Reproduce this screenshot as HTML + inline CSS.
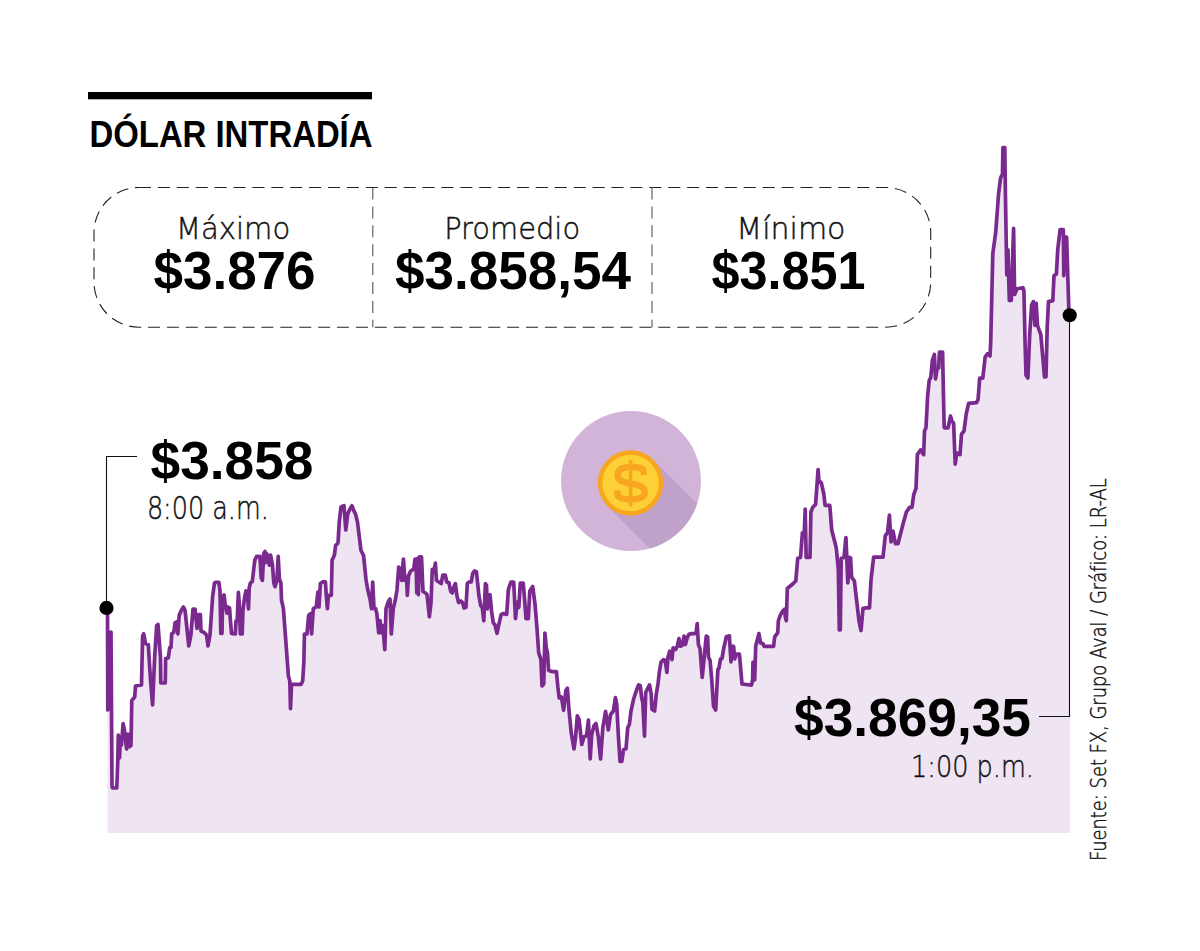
<!DOCTYPE html>
<html lang="es"><head><meta charset="utf-8"><title>Dólar intradía</title>
<style>
html,body{margin:0;padding:0;background:#fff;}
body{width:1200px;height:951px;position:relative;overflow:hidden;}
svg{position:absolute;left:0;top:0;font-family:"Liberation Sans",sans-serif;}
.lt{font-family:"DejaVu Sans","Liberation Sans",sans-serif;font-weight:200;stroke:#111;stroke-width:0.45px;}
</style></head><body>
<svg width="1200" height="951" viewBox="0 0 1200 951">
<rect x="88" y="92" width="284" height="7.3" fill="#000"/>
<rect x="94" y="187.5" width="836.7" height="139.7" rx="45" ry="45" fill="none" stroke="#222" stroke-width="1.1" stroke-dasharray="12 6.9"/><line x1="372.8" y1="187.5" x2="372.8" y2="327.2" stroke="#555" stroke-width="1.1" stroke-dasharray="12 6.9"/><line x1="652" y1="187.5" x2="652" y2="327.2" stroke="#555" stroke-width="1.1" stroke-dasharray="12 6.9"/>
<polygon points="107.5,833 107.5,608 107.8,710 111,632 112,786 112.5,788 116.8,788 117.8,760 118.3,735 119.5,758 120.5,737 121.5,745 123.1,723.6 124.5,730 126.6,749 127.8,734 129.5,746.7 131,745.5 131.8,700.4 134.7,697 135.5,686 141.5,685 142.6,636 143.7,633.8 145.5,643.5 148.3,644.7 150.5,680 152.6,705 154.6,658.4 156.7,625.6 158,624.5 160.5,658 160.8,683 165.3,683 165.6,658.5 168.3,658 169.7,647.5 171,647.5 171.7,633.8 173.8,632.4 175,622.8 177.2,621.5 177.9,633.8 179.2,615.3 181.3,610.5 183.4,607 185,610 188.8,646 190.9,635 193,609 195,609 197,628.3 198.4,614.6 200.4,614.6 201,631 203.9,632.4 206.6,635 208,646 210,635 212.6,596.8 214.5,583 215.8,582.3 218.9,582.3 220,591 220.8,633.4 222,633.4 222.7,596.8 224,595 225.2,604 227,613.2 227.7,607 229.6,608 230.2,618 231.5,633.4 235.3,634 236,620.8 237.2,620.8 238.4,592.4 239.3,604 240.3,634 242.2,634 242.9,610.7 244.7,596.8 246,591 247.3,591.7 248.5,608.8 249.2,588 250.4,583 252.3,581.6 253.6,570.3 254.8,560.2 256.7,556.4 259.9,556.4 261.2,577.9 262.4,580.4 263.7,553.9 265,551.4 265.6,562.7 266.8,553.9 268,556.4 269.4,565.2 270.6,555 272.5,565.2 273.8,583 275,586.7 276.9,580.4 278.2,556.4 279.4,579.1 280.9,583 281.5,600 283.4,608.7 288.4,676 289.8,681 290.5,708.7 291.5,684.4 301,684.4 302.7,681 303.9,660.8 304.4,634 307,634 308.6,615.5 310.3,613.8 311.6,634 313.3,608.7 316.2,607 317.9,592 319,607 320.4,583.5 322.9,581.8 325.4,581.8 326.3,595.3 327.4,608.7 328.4,595.3 331.3,595.3 332.1,560 334.4,555.3 335.6,545.6 338,543 339.3,521.5 341,507 344,505.7 345.8,530 347.7,514 349.7,509.4 352,505.7 353.8,510.6 355.5,514 357.4,521.5 358.6,531 361,550.5 363.5,555.3 366,579.5 367.6,589 370,599 371.5,608.6 372.7,582 374,608.6 375.6,608.6 376.8,613.4 378.7,632.8 380,620.6 381.6,632.8 382.8,625.5 384.8,649.7 386,608.6 388.4,601.3 390,599 391.3,634 393.2,609 395.5,599 397,590 398.7,567 400.2,569.4 401.8,580.5 403.4,559 405,580.5 406.6,577.3 407.3,595.4 408.6,575.7 410.2,571.8 412,570 413.7,569.4 415,559 416,560 416.8,593 417.6,558.4 418.4,594.6 419.5,556.8 421.5,556.8 423,591.5 425.5,593 427,594.6 429.4,616.7 431,602.5 432.3,569.4 433.8,572.6 435.4,563 436.5,580.5 438.9,582 441.2,583.6 442.8,575 445.2,575 446.8,582 449,582.8 450.7,591.5 452.3,593 453.9,586.8 455.4,583.6 457,596 458.6,602.5 461,601 462.5,602.5 464,608 466,607.3 467.3,583.6 468.8,582 471.2,582 472.8,573.4 474.4,571 476.4,571.8 477.5,582 479,596.2 480.7,605.7 482.2,607.3 483.8,620.7 485.4,583.6 486.5,585.2 487.4,608.8 488.6,596.2 490,594.6 491.7,612 493.3,623 494.9,624.6 497,633.3 498.8,624.6 501.2,614.4 503.5,613.6 506.7,614.4 508.3,590 509.3,586.5 511,582 513.7,582 515.5,618.6 517.2,602 518.8,607.5 520.3,583.2 523.2,583.2 524.8,602 526,618.6 528.3,618.6 529.8,591 532.7,586.5 535,604 537,628.5 538.7,652.8 540.9,659.4 542,686 543.8,683.8 544.9,633 546.4,648.4 547.5,652.8 548.6,670.5 552,671.6 556.4,671.6 558,688 559.2,698 561.4,697 563.6,710.3 565.9,690.4 567.4,688.2 569,710.3 571.2,732.4 574,749 575.6,736.8 577.3,715.8 579,719 581.8,744.5 584,736.8 586.6,735.7 588.4,720.2 590.2,759 591.7,734.6 594,725.7 596,723.5 598.3,736.8 600.6,759 602.8,728 605.6,711.4 608.3,730 610.5,714.7 613.4,711 615.4,697.5 616.7,704.2 618.4,736.2 620,761.5 621.8,761.5 623.5,749.7 626,748.8 627.7,727.8 629.4,724.4 631,711 633.6,699.2 635.2,694 637,689 638.6,684.9 640.3,685.7 641.6,697.5 642.8,702.6 644.5,736.2 645.7,692.5 647.4,689 649.5,684.9 651.2,694 652,709.3 654.6,711 656.3,694 658,684 659.3,672.3 661,662.2 663.5,659.6 665.2,660.5 666.9,672.3 668,657 669.7,651.2 672,659.6 673.1,647.9 675.6,649.5 677.3,646.2 679,638.6 680.3,646.2 682.4,645.3 684,636 685.4,644.5 687,638.6 688.8,634.4 691.6,633.6 695,633.6 696.2,632 697.2,623.5 698.4,644.5 700,648.7 702.2,677.3 704.2,657 706.3,636 707.6,637 708.5,657 710.1,660.5 711.8,680.7 713.5,706 715.7,710 717.9,669.4 719,668 720.5,658.9 722,658.4 723.7,648.4 726.3,636.8 729.4,635.8 731,662 732,646.3 733.6,646.3 734.7,658.9 736.3,654.2 739.4,654.2 742,684 751.5,685.2 752.6,680 753,662 754,662 754.7,680 755.7,646.3 758.9,633.6 760.5,643 763,643.6 764.1,646.3 773.6,646.3 774.7,636.8 777.8,632.6 778.3,621 780,615.8 782,612 784.5,609.3 785.5,618 786.3,620.7 787.3,588.5 793,583.8 795.8,581 797.7,558.3 800.5,557.4 802.4,532.8 804.3,531.8 805.2,509.1 806.2,557.4 810,557.4 810.9,512 812.8,507.3 815.6,504.4 818.1,469.5 818.9,480.8 821.3,482.7 823.8,494 825.1,505.4 829.8,505.4 831.7,530 835.1,543.2 836.4,548.8 838.3,569.6 839.3,630 840.3,630 841.2,558.3 844,557.4 845.9,537.5 846.8,557.4 847.8,582.9 849.7,557.4 850.6,558 851.6,577.2 854.4,581 856.8,602 859,621 861,630.5 863,608.4 866.3,607.8 869.5,607.8 871,580 873.6,557.2 877.4,557.2 883,557.2 885.3,535.8 887.5,532.6 889.4,515.2 891,542 893,531 895.4,543.7 898,543.7 900,535.8 903.3,523 906.4,512 909.6,507.3 912,507.3 913.7,494.7 916,488.4 917.4,454.6 920.5,449.9 923.7,454.6 924.5,431 926,427.8 927.6,396.2 929.2,380.5 930.8,377.3 932.4,360 934.4,354.4 935.5,378.9 937,369.4 938.7,367.9 939.4,352.1 942.6,352.1 943.4,393.1 944.2,427.8 948.1,427.8 950.5,416 952.1,421.5 953.6,423 955.2,464.1 956.8,453 960,454.6 961.5,434.1 964,431 966.3,413.6 968.6,403.3 976.5,402.6 978.1,399.4 979.7,378.1 982.8,378.1 985.2,356.8 987.6,353.7 990,356 990.7,342.6 992.8,253.7 995.7,232.3 998.6,193.4 1000.6,177.8 1002.5,174 1002.9,147.6 1004.8,147.6 1005.4,193.4 1006.4,251.7 1006.8,275 1008,249.8 1009.3,300.4 1011.3,300.4 1012.2,271.2 1013.6,228.4 1014.6,294.5 1017.1,288.7 1022.9,287.7 1023.9,290.6 1025.1,343.9 1026,375.2 1027.9,378 1029.7,334.7 1031.6,305.2 1033.4,301.6 1034.9,325.5 1036.2,303.4 1037.5,325.5 1040.8,334.7 1044.5,377 1046,377 1047.2,327.3 1048.5,301.6 1052.8,300.6 1054,275.8 1056.4,274 1057.7,250 1060.1,229.7 1063.3,229.7 1063.8,275.8 1064.7,237.1 1066.6,237.1 1068.8,308.9 1069.3,315 1070,314 1070,833" fill="#efe4f1"/>
<polyline points="107.5,608 107.8,710 111,632 112,786 112.5,788 116.8,788 117.8,760 118.3,735 119.5,758 120.5,737 121.5,745 123.1,723.6 124.5,730 126.6,749 127.8,734 129.5,746.7 131,745.5 131.8,700.4 134.7,697 135.5,686 141.5,685 142.6,636 143.7,633.8 145.5,643.5 148.3,644.7 150.5,680 152.6,705 154.6,658.4 156.7,625.6 158,624.5 160.5,658 160.8,683 165.3,683 165.6,658.5 168.3,658 169.7,647.5 171,647.5 171.7,633.8 173.8,632.4 175,622.8 177.2,621.5 177.9,633.8 179.2,615.3 181.3,610.5 183.4,607 185,610 188.8,646 190.9,635 193,609 195,609 197,628.3 198.4,614.6 200.4,614.6 201,631 203.9,632.4 206.6,635 208,646 210,635 212.6,596.8 214.5,583 215.8,582.3 218.9,582.3 220,591 220.8,633.4 222,633.4 222.7,596.8 224,595 225.2,604 227,613.2 227.7,607 229.6,608 230.2,618 231.5,633.4 235.3,634 236,620.8 237.2,620.8 238.4,592.4 239.3,604 240.3,634 242.2,634 242.9,610.7 244.7,596.8 246,591 247.3,591.7 248.5,608.8 249.2,588 250.4,583 252.3,581.6 253.6,570.3 254.8,560.2 256.7,556.4 259.9,556.4 261.2,577.9 262.4,580.4 263.7,553.9 265,551.4 265.6,562.7 266.8,553.9 268,556.4 269.4,565.2 270.6,555 272.5,565.2 273.8,583 275,586.7 276.9,580.4 278.2,556.4 279.4,579.1 280.9,583 281.5,600 283.4,608.7 288.4,676 289.8,681 290.5,708.7 291.5,684.4 301,684.4 302.7,681 303.9,660.8 304.4,634 307,634 308.6,615.5 310.3,613.8 311.6,634 313.3,608.7 316.2,607 317.9,592 319,607 320.4,583.5 322.9,581.8 325.4,581.8 326.3,595.3 327.4,608.7 328.4,595.3 331.3,595.3 332.1,560 334.4,555.3 335.6,545.6 338,543 339.3,521.5 341,507 344,505.7 345.8,530 347.7,514 349.7,509.4 352,505.7 353.8,510.6 355.5,514 357.4,521.5 358.6,531 361,550.5 363.5,555.3 366,579.5 367.6,589 370,599 371.5,608.6 372.7,582 374,608.6 375.6,608.6 376.8,613.4 378.7,632.8 380,620.6 381.6,632.8 382.8,625.5 384.8,649.7 386,608.6 388.4,601.3 390,599 391.3,634 393.2,609 395.5,599 397,590 398.7,567 400.2,569.4 401.8,580.5 403.4,559 405,580.5 406.6,577.3 407.3,595.4 408.6,575.7 410.2,571.8 412,570 413.7,569.4 415,559 416,560 416.8,593 417.6,558.4 418.4,594.6 419.5,556.8 421.5,556.8 423,591.5 425.5,593 427,594.6 429.4,616.7 431,602.5 432.3,569.4 433.8,572.6 435.4,563 436.5,580.5 438.9,582 441.2,583.6 442.8,575 445.2,575 446.8,582 449,582.8 450.7,591.5 452.3,593 453.9,586.8 455.4,583.6 457,596 458.6,602.5 461,601 462.5,602.5 464,608 466,607.3 467.3,583.6 468.8,582 471.2,582 472.8,573.4 474.4,571 476.4,571.8 477.5,582 479,596.2 480.7,605.7 482.2,607.3 483.8,620.7 485.4,583.6 486.5,585.2 487.4,608.8 488.6,596.2 490,594.6 491.7,612 493.3,623 494.9,624.6 497,633.3 498.8,624.6 501.2,614.4 503.5,613.6 506.7,614.4 508.3,590 509.3,586.5 511,582 513.7,582 515.5,618.6 517.2,602 518.8,607.5 520.3,583.2 523.2,583.2 524.8,602 526,618.6 528.3,618.6 529.8,591 532.7,586.5 535,604 537,628.5 538.7,652.8 540.9,659.4 542,686 543.8,683.8 544.9,633 546.4,648.4 547.5,652.8 548.6,670.5 552,671.6 556.4,671.6 558,688 559.2,698 561.4,697 563.6,710.3 565.9,690.4 567.4,688.2 569,710.3 571.2,732.4 574,749 575.6,736.8 577.3,715.8 579,719 581.8,744.5 584,736.8 586.6,735.7 588.4,720.2 590.2,759 591.7,734.6 594,725.7 596,723.5 598.3,736.8 600.6,759 602.8,728 605.6,711.4 608.3,730 610.5,714.7 613.4,711 615.4,697.5 616.7,704.2 618.4,736.2 620,761.5 621.8,761.5 623.5,749.7 626,748.8 627.7,727.8 629.4,724.4 631,711 633.6,699.2 635.2,694 637,689 638.6,684.9 640.3,685.7 641.6,697.5 642.8,702.6 644.5,736.2 645.7,692.5 647.4,689 649.5,684.9 651.2,694 652,709.3 654.6,711 656.3,694 658,684 659.3,672.3 661,662.2 663.5,659.6 665.2,660.5 666.9,672.3 668,657 669.7,651.2 672,659.6 673.1,647.9 675.6,649.5 677.3,646.2 679,638.6 680.3,646.2 682.4,645.3 684,636 685.4,644.5 687,638.6 688.8,634.4 691.6,633.6 695,633.6 696.2,632 697.2,623.5 698.4,644.5 700,648.7 702.2,677.3 704.2,657 706.3,636 707.6,637 708.5,657 710.1,660.5 711.8,680.7 713.5,706 715.7,710 717.9,669.4 719,668 720.5,658.9 722,658.4 723.7,648.4 726.3,636.8 729.4,635.8 731,662 732,646.3 733.6,646.3 734.7,658.9 736.3,654.2 739.4,654.2 742,684 751.5,685.2 752.6,680 753,662 754,662 754.7,680 755.7,646.3 758.9,633.6 760.5,643 763,643.6 764.1,646.3 773.6,646.3 774.7,636.8 777.8,632.6 778.3,621 780,615.8 782,612 784.5,609.3 785.5,618 786.3,620.7 787.3,588.5 793,583.8 795.8,581 797.7,558.3 800.5,557.4 802.4,532.8 804.3,531.8 805.2,509.1 806.2,557.4 810,557.4 810.9,512 812.8,507.3 815.6,504.4 818.1,469.5 818.9,480.8 821.3,482.7 823.8,494 825.1,505.4 829.8,505.4 831.7,530 835.1,543.2 836.4,548.8 838.3,569.6 839.3,630 840.3,630 841.2,558.3 844,557.4 845.9,537.5 846.8,557.4 847.8,582.9 849.7,557.4 850.6,558 851.6,577.2 854.4,581 856.8,602 859,621 861,630.5 863,608.4 866.3,607.8 869.5,607.8 871,580 873.6,557.2 877.4,557.2 883,557.2 885.3,535.8 887.5,532.6 889.4,515.2 891,542 893,531 895.4,543.7 898,543.7 900,535.8 903.3,523 906.4,512 909.6,507.3 912,507.3 913.7,494.7 916,488.4 917.4,454.6 920.5,449.9 923.7,454.6 924.5,431 926,427.8 927.6,396.2 929.2,380.5 930.8,377.3 932.4,360 934.4,354.4 935.5,378.9 937,369.4 938.7,367.9 939.4,352.1 942.6,352.1 943.4,393.1 944.2,427.8 948.1,427.8 950.5,416 952.1,421.5 953.6,423 955.2,464.1 956.8,453 960,454.6 961.5,434.1 964,431 966.3,413.6 968.6,403.3 976.5,402.6 978.1,399.4 979.7,378.1 982.8,378.1 985.2,356.8 987.6,353.7 990,356 990.7,342.6 992.8,253.7 995.7,232.3 998.6,193.4 1000.6,177.8 1002.5,174 1002.9,147.6 1004.8,147.6 1005.4,193.4 1006.4,251.7 1006.8,275 1008,249.8 1009.3,300.4 1011.3,300.4 1012.2,271.2 1013.6,228.4 1014.6,294.5 1017.1,288.7 1022.9,287.7 1023.9,290.6 1025.1,343.9 1026,375.2 1027.9,378 1029.7,334.7 1031.6,305.2 1033.4,301.6 1034.9,325.5 1036.2,303.4 1037.5,325.5 1040.8,334.7 1044.5,377 1046,377 1047.2,327.3 1048.5,301.6 1052.8,300.6 1054,275.8 1056.4,274 1057.7,250 1060.1,229.7 1063.3,229.7 1063.8,275.8 1064.7,237.1 1066.6,237.1 1068.8,308.9 1069.3,315" fill="none" stroke="#7a2a8f" stroke-width="3.7" stroke-linejoin="round" stroke-linecap="round"/>
<path d="M106.5,608 V456.5 H137" fill="none" stroke="#111" stroke-width="1.1"/>
<path d="M1069.5,314 V716.5 H1039" fill="none" stroke="#111" stroke-width="1.1"/>
<circle cx="106.5" cy="607.9" r="7.1" fill="#000"/>
<circle cx="1069.7" cy="315.2" r="7.05" fill="#000"/>
<circle cx="631" cy="481" r="70" fill="#d2b4d9"/><defs><clipPath id="cc"><circle cx="631" cy="481" r="70"/></clipPath></defs><polygon clip-path="url(#cc)" fill="#bfa1c9" points="607.4,506.1 653.6,459.9 795.0,601.3 748.8,647.5"/><circle cx="630.5" cy="483" r="32.7" fill="#f8a620"/><circle cx="630.5" cy="483" r="28.200000000000003" fill="#fdd135"/><rect x="628.8" y="460.2" width="3.6" height="46" fill="#f8a620"/><path d="M643.6,475 V471.5 C643.6,468.5 639,467 631,467 C622,467 617.7,470 617.7,475 C617.7,480 621,482 631,483.5 C641,485 644.8,487.5 644.8,492.5 C644.8,497 640,499.2 631,499.2 C622,499.2 617.4,497.5 617.4,494 V490.3" fill="none" stroke="#f8a620" stroke-width="6.4"/>
<text x="89.5" y="147" font-size="37" font-weight="bold" fill="#000" textLength="283" lengthAdjust="spacingAndGlyphs">DÓLAR INTRADÍA</text>
<text class="lt" x="175.9" y="239.3" font-size="31" fill="#111" textLength="114.3" lengthAdjust="spacingAndGlyphs">Máximo</text>
<text x="153.5" y="288.5" font-size="53.3" font-weight="bold" fill="#000" textLength="162" lengthAdjust="spacingAndGlyphs">$3.876</text>
<text class="lt" x="444.2" y="239.3" font-size="31" fill="#111" textLength="135.9" lengthAdjust="spacingAndGlyphs">Promedio</text>
<text x="395" y="288.5" font-size="53.3" font-weight="bold" fill="#000" textLength="236" lengthAdjust="spacingAndGlyphs">$3.858,54</text>
<text class="lt" x="736.3" y="239.3" font-size="31" fill="#111" textLength="109.2" lengthAdjust="spacingAndGlyphs">Mínimo</text>
<text x="711.5" y="288.5" font-size="53.3" font-weight="bold" fill="#000" textLength="154" lengthAdjust="spacingAndGlyphs">$3.851</text>
<text x="150.5" y="478.6" font-size="53.3" font-weight="bold" fill="#000" textLength="163" lengthAdjust="spacingAndGlyphs">$3.858</text>
<text class="lt" x="146.9" y="519.4" font-size="31.6" fill="#111" textLength="121.9" lengthAdjust="spacingAndGlyphs">8:00 a.m.</text>
<text x="794" y="736.2" font-size="53.3" font-weight="bold" fill="#000" textLength="237" lengthAdjust="spacingAndGlyphs">$3.869,35</text>
<text class="lt" x="911.1" y="777" font-size="30.7" fill="#111" textLength="122.8" lengthAdjust="spacingAndGlyphs">1:00 p.m.</text>
<text transform="translate(1106,861.1) rotate(-90)" class="lt" x="0" y="0" font-size="21" fill="#111" textLength="382.8" lengthAdjust="spacingAndGlyphs">Fuente: Set FX, Grupo Aval / Gráfico: LR-AL</text>
</svg>
</body></html>
